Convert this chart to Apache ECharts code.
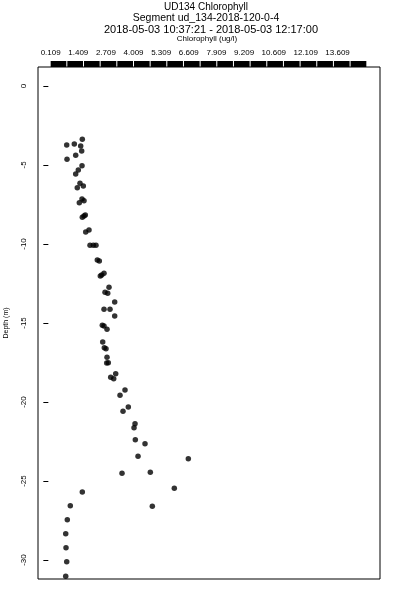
<!DOCTYPE html>
<html><head><meta charset="utf-8">
<script src="https://cdn.jsdelivr.net/npm/echarts@6/dist/echarts.min.js"></script>
<style>html,body{margin:0;padding:0;background:#fff}#c{width:400px;height:600px}</style>
</head><body><div id="c"></div>
<script>
const titleLines = [
  'UD134 Chlorophyll',
  'Segment ud_134-2018-120-0-4',
  '2018-05-03 10:37:21 - 2018-05-03 12:17:00'
];
const xTitle = 'Chlorophyll (ug/l)';
const yTitle = 'Depth (m)';

const chlorophyll = [
  1.598, 0.864, 1.221, 1.522, 1.569, 0.878, 1.287, 1.584, 1.410, 1.287,
  1.489, 1.645, 1.362, 1.584, 1.678, 1.457, 1.739, 1.598, 1.678, 1.913,
  1.758, 1.960, 2.115, 2.242, 2.304, 2.398, 2.619, 2.511, 2.445, 2.854,
  2.666, 2.793, 3.122, 2.619, 2.901, 3.122, 2.539, 2.619, 2.760, 2.558,
  2.633, 2.713, 2.760, 2.746, 2.821, 3.169, 2.934, 3.075, 3.607, 3.372,
  3.762, 3.513, 4.078, 4.031, 4.092, 4.548, 4.219, 6.586, 3.466, 4.798,
  5.927, 1.598, 4.892, 1.033, 0.892, 0.817, 0.831, 0.864, 0.817
];
const depth = [
  -3.373, -3.734, -3.671, -3.797, -4.114, -4.639, -4.386, -5.044, -5.316, -5.570,
  -6.158, -6.329, -6.437, -7.152, -7.259, -7.386, -8.165, -8.310, -8.228, -9.114,
  -9.241, -10.082, -10.082, -10.082, -11.013, -11.076, -11.854, -11.962, -12.025, -12.741,
  -13.057, -13.120, -13.671, -14.133, -14.133, -14.557, -15.146, -15.190, -15.399, -16.203,
  -16.563, -16.627, -17.171, -17.532, -17.513, -18.209, -18.437, -18.525, -19.241, -19.576,
  -20.316, -20.589, -21.373, -21.627, -22.386, -22.639, -23.437, -23.589, -24.513, -24.449,
  -25.462, -25.696, -26.601, -26.563, -27.449, -28.335, -29.222, -30.108, -31.032
];
const depthTicks = [0, -5, -10, -15, -20, -25, -30];
const colorbarLabels = [0.109, 1.409, 2.709, 4.009, 5.309, 6.609, 7.909, 9.209, 10.609, 12.109, 13.609];
const colorbarBreaks = [0.109, 0.893, 1.677, 2.461, 3.245, 4.029, 4.813, 5.597, 6.381, 7.165,
  7.949, 8.733, 9.517, 10.301, 11.085, 11.869, 12.653, 13.437, 14.221, 15.009];

const xMin = -0.487, xMax = 15.605;
const yMin = -31.2, yMax = 1.2;

const points = chlorophyll.map((c, i) => [c, depth[i]]);
const bins = [];
for (let i = 0; i < colorbarBreaks.length - 1; i++) bins.push([colorbarBreaks[i], colorbarBreaks[i + 1]]);

const FONT = '"Liberation Sans", Arial, Helvetica, sans-serif';
const chart = echarts.init(document.getElementById('c'), null, {renderer: 'canvas'});
chart.setOption({
  animation: false,
  backgroundColor: '#fff',
  textStyle: {fontFamily: FONT, color: '#000'},
  graphic: [
    {type: 'text', x: 206, y: 7, style: {text: titleLines[0], align: 'center', verticalAlign: 'middle', font: '10px ' + FONT, fill: '#000'}},
    {type: 'text', x: 206, y: 18.5, style: {text: titleLines[1], align: 'center', verticalAlign: 'middle', font: '10.5px ' + FONT, fill: '#000'}},
    {type: 'text', x: 211, y: 29.5, style: {text: titleLines[2], align: 'center', verticalAlign: 'middle', font: '11px ' + FONT, fill: '#000'}},
    {type: 'text', x: 207, y: 38.5, style: {text: xTitle, align: 'center', verticalAlign: 'middle', font: '8px ' + FONT, fill: '#000'}}
  ],
  grid: [
    {left: 38, top: 67, width: 342, height: 512, show: true, borderColor: '#000', borderWidth: 1,
      backgroundColor: 'transparent', containLabel: false, outerBoundsMode: 'none'},
    {left: 38, top: 61, width: 342, height: 6, show: false, containLabel: false, outerBoundsMode: 'none'}
  ],
  xAxis: [
    {gridIndex: 0, type: 'value', min: xMin, max: xMax, show: false, splitLine: {show: false}},
    {gridIndex: 1, type: 'value', min: xMin, max: xMax, position: 'top',
      axisLine: {show: false}, axisTick: {show: false}, splitLine: {show: false},
      axisLabel: {customValues: colorbarLabels, formatter: v => v.toFixed(3), fontSize: 8, color: '#000', margin: 4, fontFamily: FONT}}
  ],
  yAxis: [
    {gridIndex: 0, type: 'value', min: yMin, max: yMax,
      name: yTitle, nameLocation: 'middle', nameRotate: 90, nameGap: 28,
      nameTextStyle: {fontSize: 7, color: '#000', fontFamily: FONT},
      axisLine: {show: false},
      axisTick: {show: true, customValues: depthTicks, length: 5, lineStyle: {color: '#000', width: 1}},
      axisLabel: {customValues: depthTicks, rotate: 90, fontSize: 8, color: '#000', margin: 10, fontFamily: FONT},
      splitLine: {show: false}},
    {gridIndex: 1, type: 'value', min: 0, max: 1, show: false}
  ],
  series: [
    {type: 'custom', xAxisIndex: 1, yAxisIndex: 1, data: bins, silent: true,
      renderItem: function (params, api) {
        const s = api.coord([api.value(0), 0]);
        const e = api.coord([api.value(1), 1]);
        return {type: 'rect', shape: {x: s[0], y: e[1], width: e[0] - s[0] - 1, height: s[1] - e[1]}, style: {fill: '#000'}};
      }},
    {type: 'scatter', xAxisIndex: 0, yAxisIndex: 0, data: points, symbol: 'circle', symbolSize: 5.5,
      itemStyle: {color: '#000'}, silent: true}
  ]
});
</script>
</body></html>
